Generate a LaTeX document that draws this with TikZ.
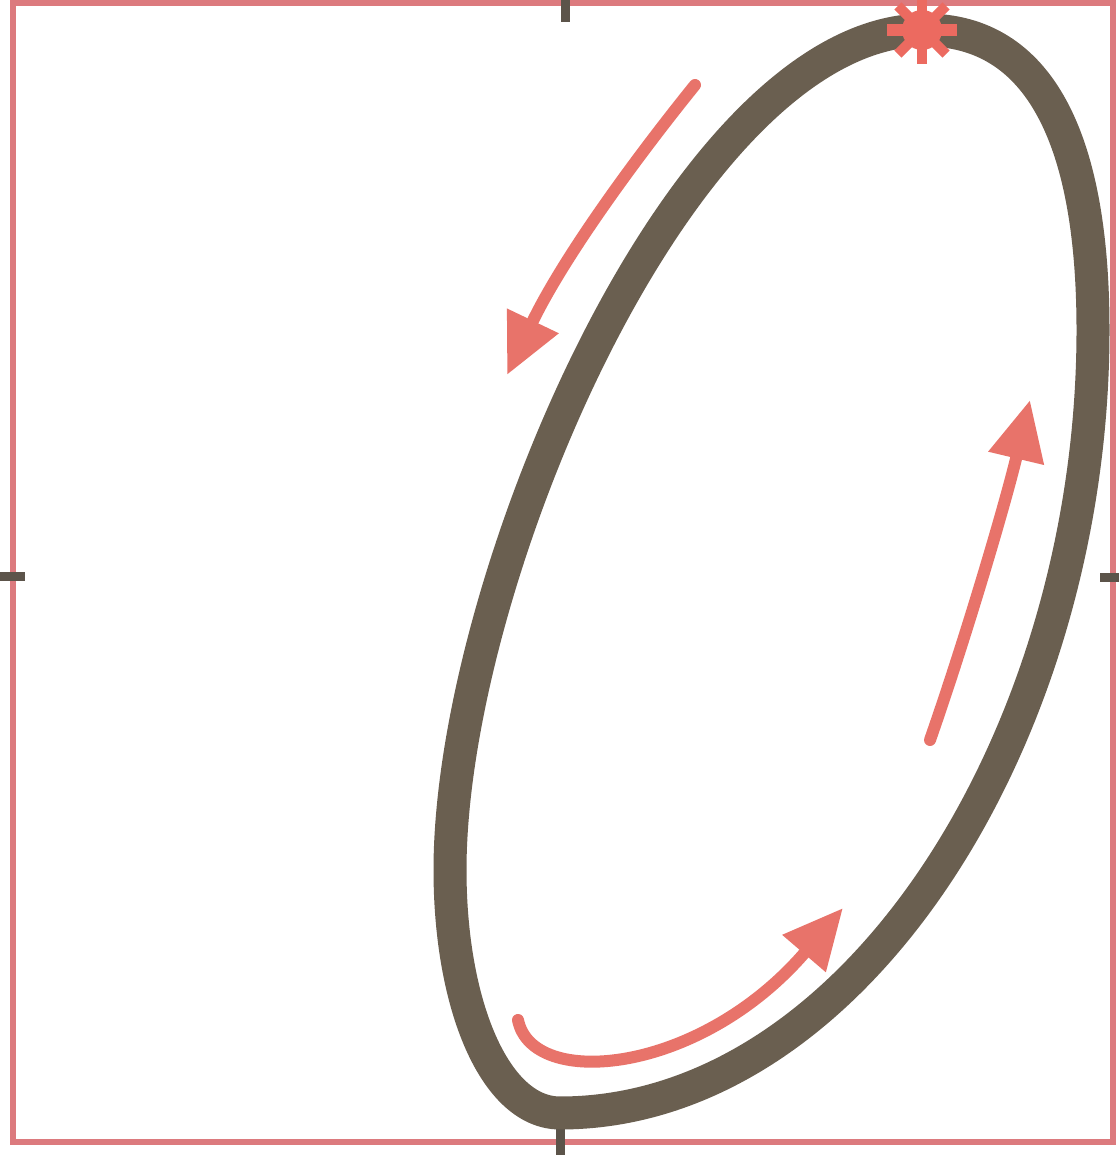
\documentclass[tikz,border=0pt]{standalone}
\usetikzlibrary{arrows.meta}
\definecolor{framecol}{HTML}{DC7A7E}
\definecolor{ringcol}{HTML}{6A5F50}
\definecolor{arrcol}{HTML}{E8736A}
\definecolor{starcol}{HTML}{EC6A60}
\definecolor{tickcol}{HTML}{5C544A}
\tikzset{
  frame/.style={draw=framecol,line width=6pt},
  ring/.style={draw=ringcol,line width=33pt},
  flow/.style={draw=arrcol,line width=12pt,line cap=round,-{Triangle[length=60pt,width=54pt]}},
  tick/.style={draw=tickcol,line width=9pt},
  ray/.style={draw=starcol,line width=10pt},
}
\begin{document}
\begin{tikzpicture}[x=1pt,y=1pt]
\useasboundingbox (0,0) rectangle (1119,1155);
\fill[white] (0,0) rectangle (1119,1155);
% frame
\node[frame,minimum width=1100pt,minimum height=1139pt,inner sep=0pt,anchor=south west] (box) at (10,10) {};
% ticks
\coordinate (tT) at (565,1155);
\coordinate (tB) at (560,28);
\coordinate (tL) at (0,578);
\coordinate (tR) at (1100,577);
\draw[tick] (tT) -- ++(0,-22);
\draw[tick] (tB) -- ++(0,-28);
\draw[tick] (tL) -- ++(25,0);
\draw[tick] (tR) -- ++(19,0);
% ring
\coordinate (T) at (925,1125);
\coordinate (R) at (1093,825);
\coordinate (B) at (560,42);
\coordinate (L) at (450,285);
\draw[ring] (T) .. controls (1040,1125) and (1093,1015) .. (R)
            .. controls (1093,420) and (855,42) .. (B)
            .. controls (495,42) and (450,150) .. (L)
            .. controls (450,575) and (685,1125) .. (T) -- cycle;
% star
\coordinate (s) at (922,1125);
\foreach \a in {45,90,135,225,270,315}{\draw[ray] (s) -- ++(\a:34);}
\fill[starcol] (887,1119) rectangle (957,1131);
\fill[starcol] (s) circle (20);
% arrows
\coordinate (a1s) at (695,1070);
\coordinate (a1e) at (507,780);
\draw[flow] (a1s) .. controls (632,992) and (562,895) .. (a1e);
\coordinate (a2s) at (930,415);
\coordinate (a2e) at (1030,755);
\draw[flow] (a2s) .. controls (965,515) and (1005,650) .. (a2e);
\coordinate (a3s) at (518,135);
\coordinate (a3e) at (843,247);
\draw[flow] (a3s) .. controls (532,65) and (700,80) .. (a3e);
\end{tikzpicture}
\end{document}
